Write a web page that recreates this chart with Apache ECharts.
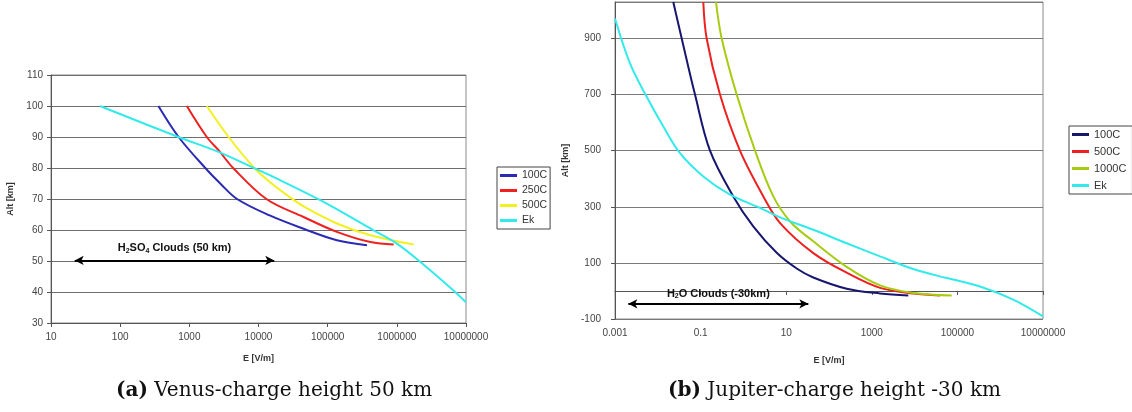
<!DOCTYPE html>
<html><head><meta charset="utf-8">
<script src="https://cdn.jsdelivr.net/npm/echarts@6/dist/echarts.min.js"></script>
<style>
html,body{margin:0;padding:0;background:#fff;}
#a{position:absolute;left:0;top:0;width:556px;height:412px;}
#b{position:absolute;left:556px;top:0;width:576px;height:412px;}
</style>
</head><body><div id="a"></div><div id="b"></div>
<script>
// ---------- data (E [V/m], Alt [km]) ----------
const venusNames = ['100C', '250C', '500C', 'Ek'];
const venusColors = ['#2a2ab4', '#ee2020', '#f2f01e', '#33eaea'];
const venus100C = [[357,100],[700,90],[1700,80],[2800,75],[4900,70],[14500,64.7],[44800,60.4],[136000,56.7],[371000,55.1]];
const venus250C = [[920,100],[1790,90],[2700,85.5],[4300,80],[13000,70],[44800,64.2],[136000,59.4],[414000,56.1],[900000,55.3]];
const venus500C = [[1790,100],[3700,90],[8700,80],[15500,75],[28000,70.7],[44800,67.6],[136000,62.1],[414000,58.3],[1750000,55.3]];
const venusEk = [[51,100],[695,90],[2640,85.2],[8950,79.8],[14800,77.6],[78200,69.6],[461000,59.9],[1000000,55.6],[2190000,49.7],[6600000,40.5],[10000000,36.7]];
const venusArrow = [[22,50.2],[16900,50.2]];
const venusAltAxis = {min:30, max:110, interval:10};
const venusEAxis = {min:10, max:10000000};

const jupiterNames = ['100C', '500C', '1000C', 'Ek'];
const jupiterColors = ['#16166e', '#ee2020', '#a6cc12', '#33eaea'];
const jupiter100C = [[0.023,1030],[0.0362,900],[0.074,700],[0.166,500],[0.58,337],[1.7,230],[6.0,136],[17.6,80],[43,48],[259,8],[1560,-9],[7130,-16]];
const jupiter500C = [[0.1156,1030],[0.1386,900],[0.284,700],[0.832,500],[2.92,337],[7.2,242],[43,135],[259,65],[1560,11],[9330,-9],[39200,-16]];
const jupiter1000C = [[0.229,1030],[0.311,900],[0.697,700],[1.87,500],[5.0,337],[12.8,245],[43,177],[259,86],[1560,20],[9330,-7],[73600,-16]];
const jupiterEk = [[0.001,971],[0.00224,811],[0.0055,692],[0.01346,586],[0.033,491],[0.1156,408],[0.487,343],[2.44,296],[7.2,262],[43,218],[259,170],[1560,123],[9330,78],[56200,46],[337000,16],[2020000,-31],[10000000,-91]];
const jupiterArrow = [[0.00205,-46],[32.9,-46]];
const jupiterAltAxis = {min:-100, max:1030, interval:200};
const jupiterEAxis = {min:0.001, max:10000000, interval:2};

// ---------- helpers ----------
const SANS = 'Liberation Sans, Arial, sans-serif';
const SERIF = 'DejaVu Serif, Liberation Serif, serif';
const fmt = v => String(+Number(v).toPrecision(6));

function lineSeries(name, data, color) {
  return {type:'line', name, data, smooth:0.35, symbol:'none', showSymbol:false,
          lineStyle:{width:2, color}, itemStyle:{color}, clip:true, z:3};
}
function arrowMark(coords, text, dist) {
  return {
    silent:true, symbol:['arrow','arrow'], symbolSize:[7,9], precision:6,
    lineStyle:{color:'#000', width:2, type:'solid'},
    label:{show:true, position:'insideMiddleTop', distance:dist, color:'#000',
      formatter:text,
      rich:{n:{fontFamily:SANS, fontWeight:'bold', fontSize:11, color:'#111'},
            s:{fontFamily:SANS, fontWeight:'bold', fontSize:7, color:'#111', padding:[5,0,0,0]}}},
    data:[[{coord:coords[0]},{coord:coords[1]}]]
  };
}
function baseAxisStyle() {
  return {
    axisLine:{show:true, lineStyle:{color:'#555', width:1}},
    axisTick:{show:true, length:4, lineStyle:{color:'#555'}},
    nameTextStyle:{fontFamily:SANS, fontSize:9, fontWeight:'bold', color:'#333'}
  };
}
function captionTitle(letter, rest, left) {
  return {text:'{b|' + letter + '} ' + rest, left:left, top:381, padding:0,
    textStyle:{fontFamily:SERIF, fontSize:20, fontWeight:'normal', color:'#111',
      rich:{b:{fontFamily:SERIF, fontSize:20, fontWeight:'bold', color:'#111'}}}};
}

// ---------- chart (a) Venus ----------
const chartA = echarts.init(document.getElementById('a'));
const seriesA = [venus100C, venus250C, venus500C, venusEk].map((d,i) => lineSeries(venusNames[i], d, venusColors[i]));
seriesA[3].markLine = arrowMark(venusArrow, '{n|H}{s|2}{n|SO}{s|4}{n| Clouds (50 km)}', 6);
chartA.setOption({
  animation:false,
  title:captionTitle('(a)', 'Venus-charge height 50 km', 116),
  legend:{data:venusNames, orient:'vertical', left:497, top:167, padding:[3,3,3,3],
    itemGap:4, itemWidth:17, itemHeight:3, icon:'rect', itemTextGap:2,
    borderColor:'#444', borderWidth:1, backgroundColor:'#fff',
    textStyle:{fontFamily:SANS, fontSize:10.5, color:'#333'}},
  grid:{left:51, top:75, width:415, height:248, show:true, borderColor:'#8a8a8a', borderWidth:1,
    outerBoundsMode:'none', containLabel:false},
  xAxis:Object.assign(baseAxisStyle(), {type:'log', logBase:10, min:venusEAxis.min, max:venusEAxis.max,
    name:'E [V/m]', nameLocation:'middle', nameGap:31,
    splitLine:{show:false},
    axisLabel:{formatter:fmt, fontFamily:SANS, fontSize:10, color:'#444', margin:9}}),
  yAxis:Object.assign(baseAxisStyle(), {type:'value', min:venusAltAxis.min, max:venusAltAxis.max, interval:venusAltAxis.interval,
    name:'Alt [km]', nameLocation:'middle', nameGap:31,
    splitLine:{show:true, lineStyle:{color:'#6e6e6e', width:1}},
    axisLabel:{fontFamily:SANS, fontSize:10, color:'#444', margin:8}}),
  series:seriesA
});

// ---------- chart (b) Jupiter ----------
const chartB = echarts.init(document.getElementById('b'));
const seriesB = [jupiter100C, jupiter500C, jupiter1000C, jupiterEk].map((d,i) => lineSeries(jupiterNames[i], d, jupiterColors[i]));
seriesB[3].markLine = arrowMark(jupiterArrow, '{n|H}{s|2}{n|O Clouds (-30km)}', 4);
chartB.setOption({
  animation:false,
  title:captionTitle('(b)', 'Jupiter-charge height -30 km', 112),
  legend:{data:jupiterNames, orient:'vertical', left:513, top:126, padding:[3,6,3,3],
    itemGap:6, itemWidth:17, itemHeight:3, icon:'rect', itemTextGap:2,
    borderColor:'#444', borderWidth:1, backgroundColor:'#fff',
    textStyle:{fontFamily:SANS, fontSize:11, color:'#333'}},
  grid:{left:59, top:2, width:428, height:317, show:true, borderColor:'#8a8a8a', borderWidth:1,
    outerBoundsMode:'none', containLabel:false},
  xAxis:Object.assign(baseAxisStyle(), {type:'log', logBase:10, min:jupiterEAxis.min, max:jupiterEAxis.max, interval:jupiterEAxis.interval,
    name:'E [V/m]', nameLocation:'middle', nameGap:37,
    splitLine:{show:false},
    axisLabel:{formatter:fmt, fontFamily:SANS, fontSize:10, color:'#444', margin:9}}),
  yAxis:Object.assign(baseAxisStyle(), {type:'value', min:jupiterAltAxis.min, max:jupiterAltAxis.max, interval:jupiterAltAxis.interval,
    name:'Alt [km]', nameLocation:'middle', nameGap:41,
    splitLine:{show:true, lineStyle:{color:'#7a7a7a', width:1}},
    axisLabel:{fontFamily:SANS, fontSize:10, color:'#444', margin:14, showMaxLabel:false}}),
  series:seriesB
});
</script>
</body></html>
